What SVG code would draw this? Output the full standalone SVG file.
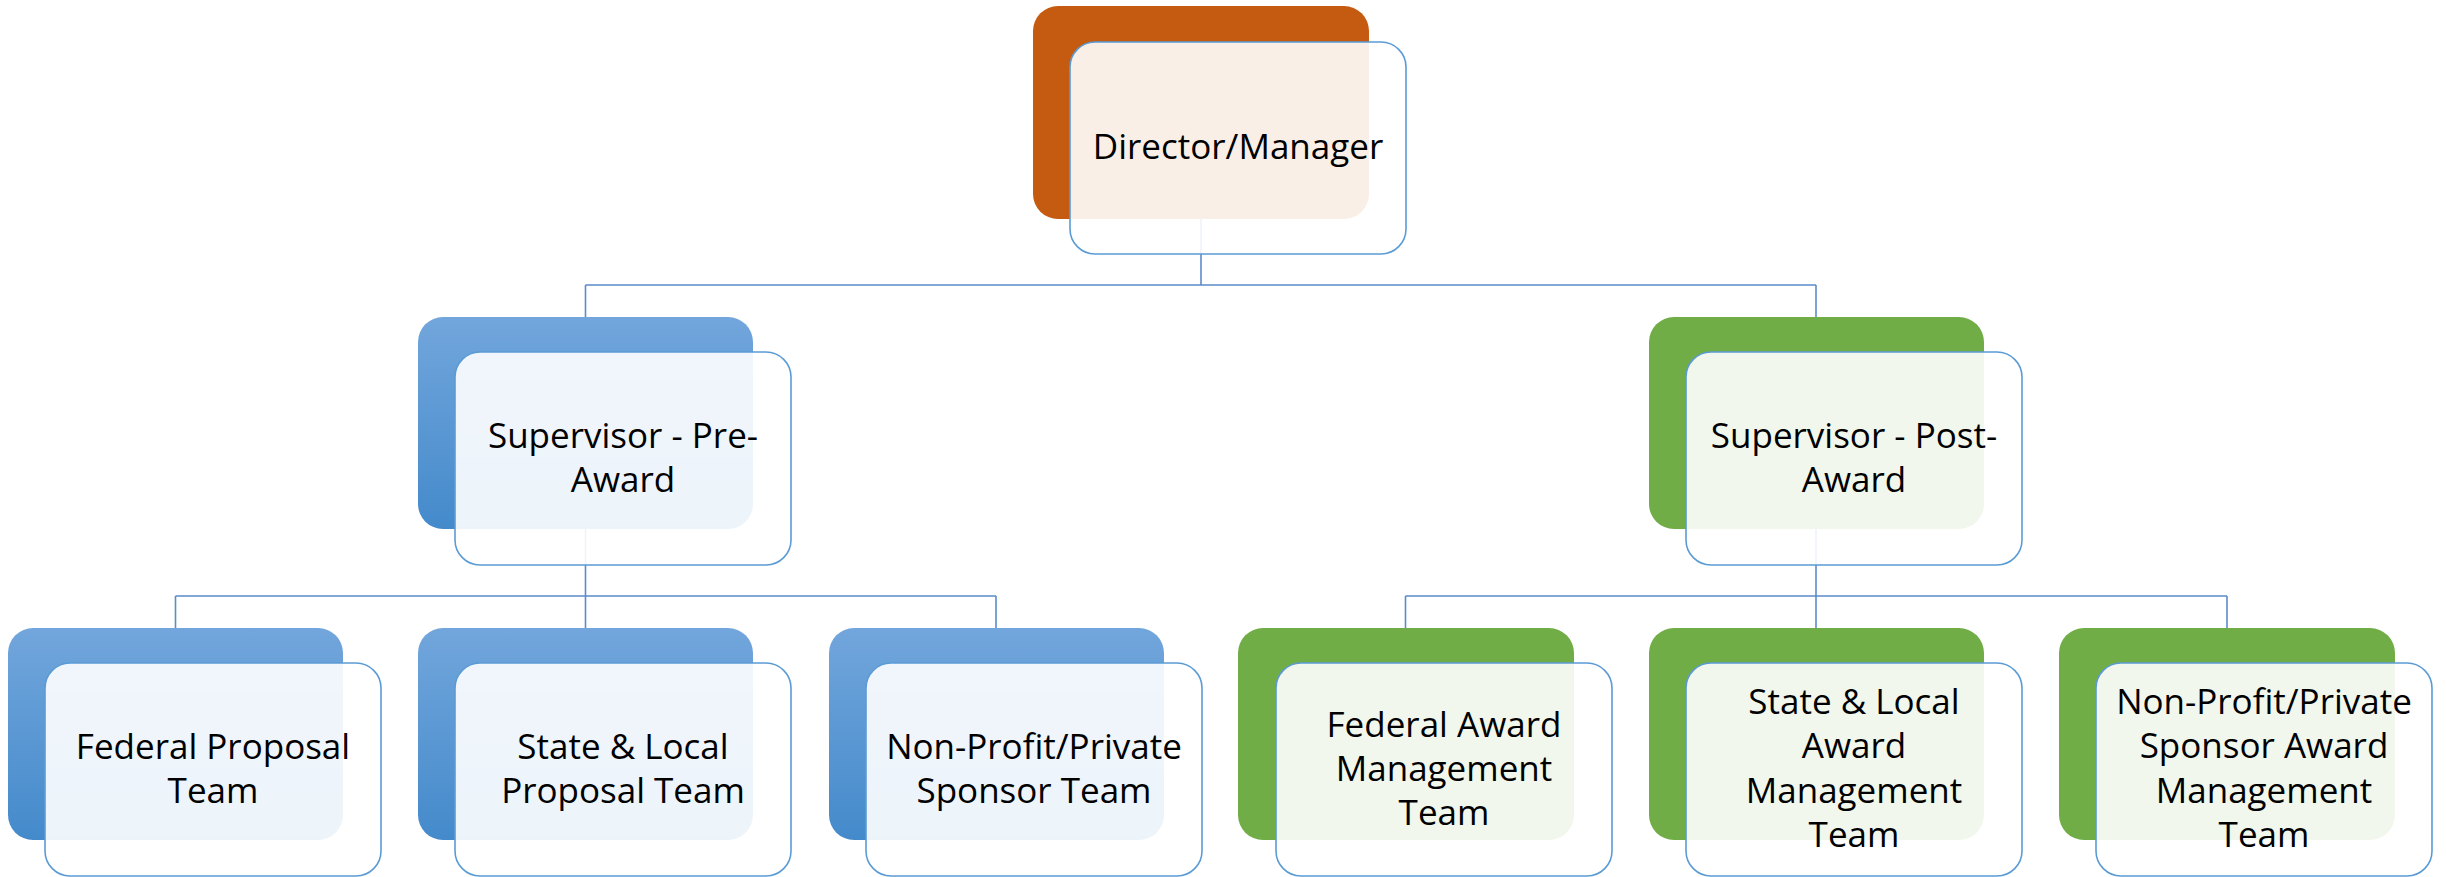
<svg xmlns="http://www.w3.org/2000/svg" width="2446" height="877" viewBox="0 0 2446 877">
<defs>
<linearGradient id="blueGrad" x1="0" y1="0" x2="0" y2="1">
<stop offset="0" stop-color="#72A6DC"/>
<stop offset="1" stop-color="#448ACB"/>
</linearGradient>
<style>
.back-orange{fill:#C55A11;}
.back-blue{fill:url(#blueGrad);}
.back-green{fill:#70AD47;}
.front{fill:#FFFFFF;fill-opacity:0.9;stroke:#5B9BD5;stroke-width:1.6;}
.conn{fill:none;stroke:#5B8CC8;stroke-width:1.6;}
.label{font-family:"Open Sans","Noto Sans",sans-serif;font-size:35px;fill:#000000;text-anchor:middle;}
</style>
</defs>
<rect width="2446" height="877" fill="#FFFFFF"/>
<g id="connectors">
<path class="conn" d="M1201,219 V285 M585.5,285 H1816 M585.5,285 V317 M1816,285 V317"/>
<path class="conn" d="M585.5,529 V596 M175.5,596 H996 M175.5,596 V628 M585.5,596 V628 M996,596 V628"/>
<path class="conn" d="M1816,529 V596 M1405.5,596 H2227 M1405.5,596 V628 M1816,596 V628 M2227,596 V628"/>
</g>
<g id="node-director">
<rect class="back-orange" x="1033" y="6" width="336" height="213" rx="25"/>
<rect class="front" x="1070" y="42" width="336" height="212" rx="25"/>
<text class="label" x="1238" y="159">Director/Manager</text>
</g>
<g id="node-pre-award">
<rect class="back-blue" x="418" y="317" width="335" height="212" rx="25"/>
<rect class="front" x="455" y="352" width="336" height="213" rx="25"/>
<text class="label" x="623" y="448">Supervisor - Pre-</text>
<text class="label" x="623" y="492">Award</text>
</g>
<g id="node-post-award">
<rect class="back-green" x="1649" y="317" width="335" height="212" rx="25"/>
<rect class="front" x="1686" y="352" width="336" height="213" rx="25"/>
<text class="label" x="1854" y="448">Supervisor - Post-</text>
<text class="label" x="1854" y="492">Award</text>
</g>
<g id="node-federal-proposal">
<rect class="back-blue" x="8" y="628" width="335" height="212" rx="25"/>
<rect class="front" x="45" y="663" width="336" height="213" rx="25"/>
<text class="label" x="213" y="759">Federal Proposal</text>
<text class="label" x="213" y="803">Team</text>
</g>
<g id="node-state-local-proposal">
<rect class="back-blue" x="418" y="628" width="335" height="212" rx="25"/>
<rect class="front" x="455" y="663" width="336" height="213" rx="25"/>
<text class="label" x="623" y="759">State &amp; Local</text>
<text class="label" x="623" y="803">Proposal Team</text>
</g>
<g id="node-nonprofit-sponsor">
<rect class="back-blue" x="829" y="628" width="335" height="212" rx="25"/>
<rect class="front" x="866" y="663" width="336" height="213" rx="25"/>
<text class="label" x="1034" y="759">Non-Profit/Private</text>
<text class="label" x="1034" y="803">Sponsor Team</text>
</g>
<g id="node-federal-award">
<rect class="back-green" x="1238" y="628" width="336" height="212" rx="25"/>
<rect class="front" x="1276" y="663" width="336" height="213" rx="25"/>
<text class="label" x="1444" y="737">Federal Award</text>
<text class="label" x="1444" y="781">Management</text>
<text class="label" x="1444" y="825">Team</text>
</g>
<g id="node-state-local-award">
<rect class="back-green" x="1649" y="628" width="335" height="212" rx="25"/>
<rect class="front" x="1686" y="663" width="336" height="213" rx="25"/>
<text class="label" x="1854" y="714">State &amp; Local</text>
<text class="label" x="1854" y="758">Award</text>
<text class="label" x="1854" y="803">Management</text>
<text class="label" x="1854" y="847">Team</text>
</g>
<g id="node-nonprofit-award">
<rect class="back-green" x="2059" y="628" width="336" height="212" rx="25"/>
<rect class="front" x="2096" y="663" width="336" height="213" rx="25"/>
<text class="label" x="2264" y="714">Non-Profit/Private</text>
<text class="label" x="2264" y="758">Sponsor Award</text>
<text class="label" x="2264" y="803">Management</text>
<text class="label" x="2264" y="847">Team</text>
</g>
</svg>
